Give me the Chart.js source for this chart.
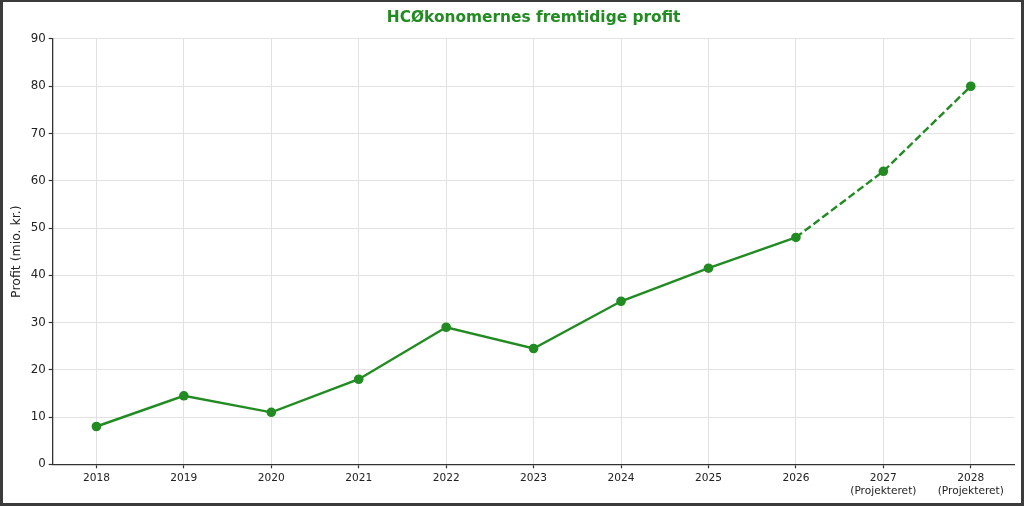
<!DOCTYPE html>
<html>
<head>
<meta charset="utf-8">
<script src="https://cdn.jsdelivr.net/npm/chart.js@4/dist/chart.umd.min.js"></script>
<style>
  html, body { margin: 0; padding: 0; width: 1024px; height: 506px; background: #3b3b3b; overflow: hidden; }
  #wrap { position: absolute; left: 3px; top: 2px; width: 1018px; height: 501px; background: #ffffff; }
</style>
</head>
<body>
<div id="wrap"><canvas id="c"></canvas></div>
<script>
// ---- data ----
const years = ['2018', '2019', '2020', '2021', '2022', '2023', '2024', '2025', '2026', '2027', '2028'];
const profit = [8, 14.5, 11, 18, 29, 24.5, 34.5, 41.5, 48, 62, 80];
const projected = [false, false, false, false, false, false, false, false, false, true, true];
const projectedNote = '(Projekteret)';
const titleText = 'HCØkonomernes fremtidige profit';
const yTitle = 'Profit (mio. kr.)';
const yMin = 0, yMax = 90, yStep = 10;

const labels = years.map((y, i) => projected[i] ? [y, projectedNote] : y);
const green = '#228B22';
const font = 'DejaVu Sans';

new Chart(document.getElementById('c'), {
  type: 'line',
  data: {
    labels: labels,
    datasets: [{
      data: profit,
      borderColor: green,
      backgroundColor: green,
      borderWidth: 2.4,
      pointRadius: 4.8,
      pointBackgroundColor: green,
      pointBorderColor: green,
      pointBorderWidth: 0,
      tension: 0,
      fill: false,
      segment: {
        borderDash: ctx => projected[ctx.p1DataIndex] ? [7.6, 3.4] : undefined
      }
    }]
  },
  options: {
    responsive: true,
    maintainAspectRatio: false,
    animation: false,
    layout: { padding: { left: 0, right: 6.5, top: 0, bottom: 0 } },
    plugins: {
      legend: { display: false },
      tooltip: { enabled: false },
      title: {
        display: true,
        text: titleText,
        color: green,
        fullSize: false,
        font: { family: font, size: 15.4, weight: 'bold' },
        padding: { top: 6.8, bottom: 11.7 }
      }
    },
    scales: {
      x: {
        offset: true,
        grid: { offset: false, color: '#e2e2e2', lineWidth: 1, drawTicks: true, tickLength: 4, tickColor: '#333', tickWidth: 1.2 },
        border: { display: true, color: '#333', width: 1.3 },
        ticks: { color: '#222', font: { family: font, size: 10.6, lineHeight: 1.17 }, padding: 4, maxRotation: 0, autoSkip: false },
        afterFit: s => { s.height = 38.7; }
      },
      y: {
        min: yMin, max: yMax,
        grid: { color: '#e2e2e2', lineWidth: 1, drawTicks: true, tickLength: 4, tickColor: '#333', tickWidth: 1.2 },
        border: { display: true, color: '#333', width: 1.3 },
        ticks: { stepSize: yStep, color: '#222', font: { family: font, size: 11.8 }, padding: 3 },
        title: { display: true, text: yTitle, color: '#222', font: { family: font, size: 12.5 }, padding: { top: 6.5, bottom: 0 } },
        afterFit: s => { s.width = 49.7; }
      }
    }
  }
});
</script>
</body>
</html>
